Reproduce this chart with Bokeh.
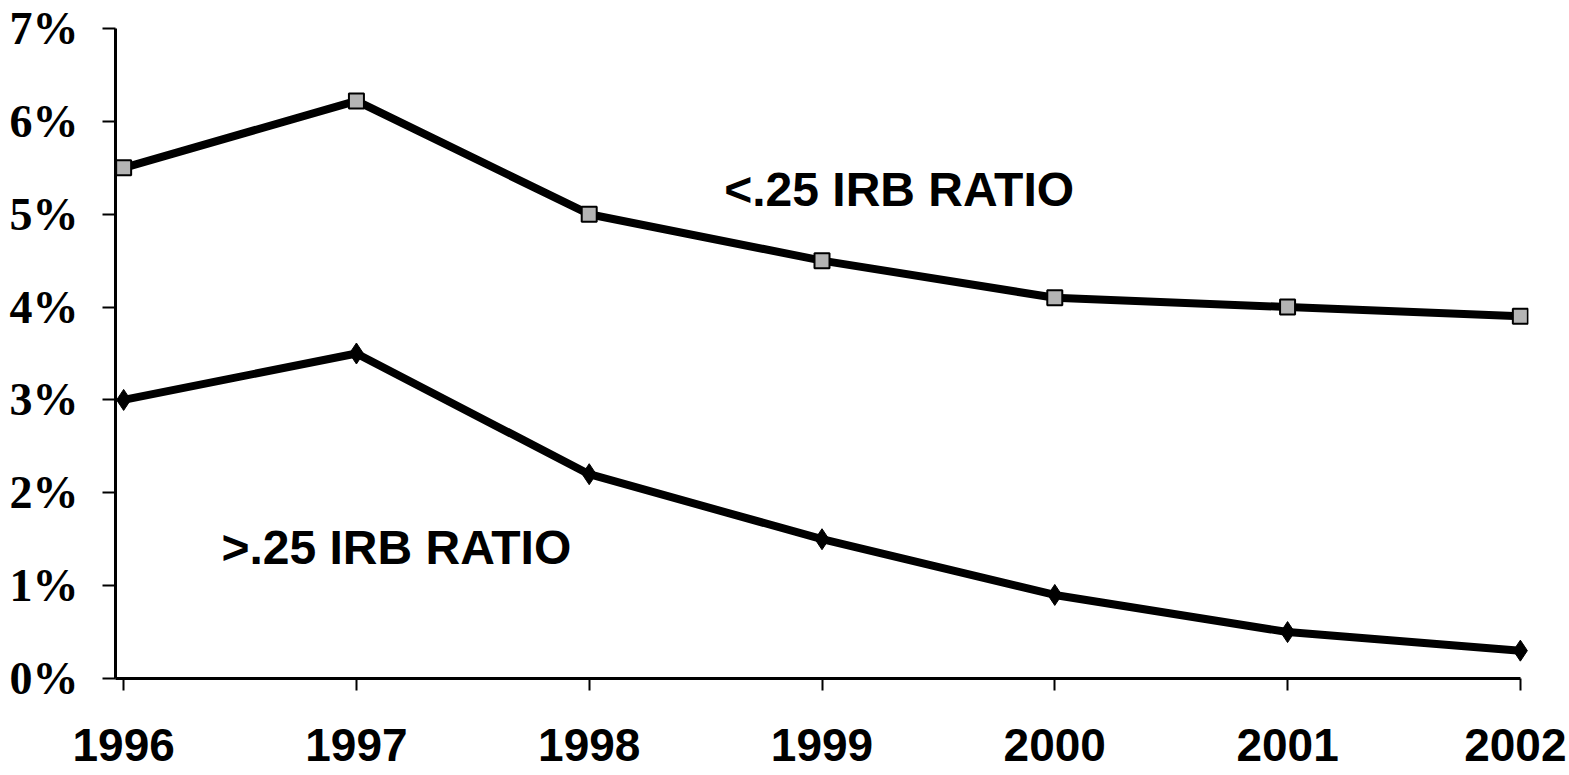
from bokeh.plotting import figure
from bokeh.models import FixedTicker, ColumnDataSource, Range1d
from bokeh.core.properties import value
from bokeh.embed import file_html
from bokeh.resources import INLINE

years = [1996, 1997, 1998, 1999, 2000, 2001, 2002]
low_ratio = [5.5, 6.22, 5.0, 4.5, 4.1, 4.0, 3.9]      # "<.25 IRB RATIO"
high_ratio = [3.0, 3.5, 2.2, 1.5, 0.9, 0.5, 0.3]      # ">.25 IRB RATIO"
y_ticks = [0, 1, 2, 3, 4, 5, 6, 7]
y_tick_labels = ["0%", "1%", "2%", "3%", "4%", "5%", "6%", "7%"]
x_tick_labels = ["1996", "1997", "1998", "1999", "2000", "2001", "2002"]
ann_text = ["<.25 IRB RATIO", ">.25 IRB RATIO"]
ann_x = [1998.58, 1996.42]
ann_y = [5.27, 1.41]

pad = 0.035
p = figure(width=1566, height=775, output_backend="svg", toolbar_location=None,
           x_range=Range1d(1996 - pad, 2002 + pad), y_range=Range1d(0, 7),
           min_border_left=115, min_border_right=38, min_border_top=28, min_border_bottom=97)
p.outline_line_color = None
p.grid.visible = False
p.background_fill_color = "white"

p.line(years, low_ratio, line_color="black", line_width=8)
p.scatter(years, low_ratio, marker="square", size=15, fill_color="#b4b4b4",
          line_color="black", line_width=2)
p.line(years, high_ratio, line_color="black", line_width=8)
p.scatter(years, high_ratio, marker="diamond", size=21, fill_color="black",
          line_color="black")

src = ColumnDataSource(dict(x=ann_x, y=ann_y, t=ann_text))
p.text(x="x", y="y", text="t", source=src, text_font=value("Liberation Sans"),
       text_font_style="bold", text_font_size="48px", text_color="black",
       text_baseline="alphabetic", text_align="left")

xa = p.xaxis[0]
xa.ticker = FixedTicker(ticks=years)
xa.bounds = (1996 - pad, 2002)
xa.major_label_overrides = {y: s for y, s in zip(years, x_tick_labels)}
xa.axis_line_width = 3
xa.major_tick_line_width = 2
xa.major_tick_out = 12
xa.major_tick_in = 0
xa.minor_tick_line_color = None
xa.major_label_text_font = "Liberation Sans"
xa.major_label_text_font_style = "bold"
xa.major_label_text_font_size = "46px"
xa.major_label_standoff = 38
xa.major_label_text_color = "black"

ya = p.yaxis[0]
ya.ticker = FixedTicker(ticks=y_ticks)
ya.major_label_overrides = {t: s for t, s in zip(y_ticks, y_tick_labels)}
ya.axis_line_width = 3
ya.major_tick_line_width = 2
ya.major_tick_out = 13
ya.major_tick_in = 0
ya.minor_tick_line_color = None
ya.major_label_text_font = "Liberation Serif"
ya.major_label_text_font_style = "bold"
ya.major_label_text_font_size = "46px"
ya.major_label_standoff = 24
ya.major_label_text_color = "black"

open("out.html", "w").write(file_html(p, INLINE))
